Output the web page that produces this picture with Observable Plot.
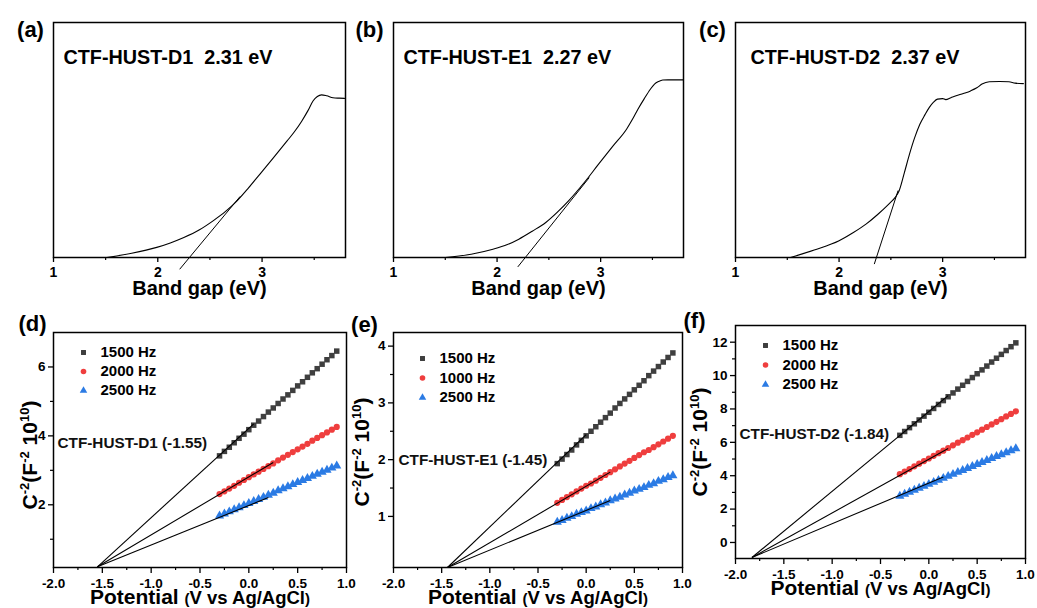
<!DOCTYPE html>
<html><head><meta charset="utf-8">
<script src="https://cdn.jsdelivr.net/npm/d3@7"></script>
<script src="https://cdn.jsdelivr.net/npm/@observablehq/plot@0.6"></script>
<style>
body{margin:0;background:#fff;}
#fig{position:relative;width:1037px;height:608px;overflow:hidden;background:#fff;}
#fig svg{position:absolute;}
</style></head><body><div id="fig"></div>
<script>
// ---------- Top row: band gap (Tauc) curves ----------
const aEnergy = [1.51, 1.75, 1.99, 2.12, 2.25, 2.40, 2.53, 2.65, 2.76, 2.87, 2.98, 3.11, 3.24, 3.31, 3.38, 3.44, 3.49, 3.53, 3.57, 3.62, 3.68, 3.74, 3.79];
const aAbs    = [0.000, 0.018, 0.043, 0.062, 0.085, 0.118, 0.156, 0.196, 0.241, 0.296, 0.355, 0.425, 0.496, 0.535, 0.580, 0.625, 0.667, 0.685, 0.692, 0.688, 0.680, 0.678, 0.677];
const aTanE = [2.21, 2.79];
const aTanA = [-0.05, 0.26];

const bEnergy = [1.50, 1.75, 1.96, 2.10, 2.21, 2.34, 2.47, 2.58, 2.69, 2.84, 2.98, 3.12, 3.25, 3.31, 3.36, 3.42, 3.48, 3.52, 3.56, 3.60, 3.65, 3.72, 3.80];
const bAbs    = [0.000, 0.014, 0.035, 0.055, 0.078, 0.112, 0.149, 0.192, 0.241, 0.318, 0.397, 0.475, 0.546, 0.590, 0.631, 0.675, 0.716, 0.738, 0.749, 0.755, 0.756, 0.756, 0.756];
const bTanE = [2.20, 2.89];
const bTanA = [-0.04, 0.34];

const cEnergy = [1.53, 1.76, 2.00, 2.13, 2.26, 2.37, 2.48, 2.54, 2.58, 2.63, 2.68, 2.73, 2.78, 2.83, 2.87, 2.91, 2.95, 3.00, 3.03, 3.08, 3.13, 3.20, 3.27, 3.33, 3.38, 3.45, 3.55, 3.64, 3.70, 3.78];
const cAbs    = [0.000, 0.032, 0.071, 0.104, 0.142, 0.182, 0.227, 0.255, 0.284, 0.360, 0.440, 0.510, 0.567, 0.608, 0.638, 0.660, 0.674, 0.676, 0.672, 0.680, 0.688, 0.698, 0.709, 0.722, 0.738, 0.748, 0.749, 0.748, 0.742, 0.740];
const cTanE = [2.34, 2.57];
const cTanA = [-0.028, 0.285];

const uvTicks = [1, 2, 3];
const uvMinor = [1.5, 2.5, 3.5];

// ---------- Bottom row: Mott-Schottky ----------
const potential = [-0.30, -0.25, -0.20, -0.15, -0.10, -0.05, 0.00, 0.05, 0.10, 0.15, 0.20, 0.25, 0.30, 0.35, 0.40, 0.45, 0.50, 0.55, 0.60, 0.65, 0.70, 0.75, 0.80, 0.85, 0.90];

const dFreq = ["1500 Hz", "2000 Hz", "2500 Hz"];
const d1500 = [3.42, 3.55, 3.67, 3.80, 3.93, 4.05, 4.18, 4.31, 4.43, 4.56, 4.69, 4.81, 4.94, 5.07, 5.19, 5.32, 5.45, 5.57, 5.70, 5.83, 5.95, 6.08, 6.21, 6.33, 6.46];
const d2000 = [2.31, 2.39, 2.47, 2.55, 2.64, 2.72, 2.80, 2.88, 2.96, 3.04, 3.12, 3.20, 3.29, 3.37, 3.45, 3.53, 3.61, 3.69, 3.77, 3.86, 3.94, 4.02, 4.10, 4.18, 4.26];
const d2500 = [1.68, 1.74, 1.80, 1.86, 1.92, 1.98, 2.04, 2.10, 2.16, 2.22, 2.28, 2.34, 2.41, 2.47, 2.53, 2.59, 2.65, 2.71, 2.77, 2.83, 2.89, 2.95, 3.01, 3.07, 3.13];
const dFlatband = [-1.55, 0.20];
const dFitEndV = [0.05, 0.25, 0.20];
const dFitEndC = [4.35, 3.23, 2.21];
const dYTicks = [2, 4, 6];
const dYMinor = [1, 3, 5];

const eFreq = ["1500 Hz", "1000 Hz", "2500 Hz"];
const e1500 = [1.93, 2.01, 2.09, 2.17, 2.26, 2.34, 2.42, 2.50, 2.58, 2.66, 2.74, 2.82, 2.91, 2.99, 3.07, 3.15, 3.23, 3.31, 3.39, 3.48, 3.56, 3.64, 3.72, 3.80, 3.88];
const e1000 = [1.24, 1.29, 1.34, 1.39, 1.44, 1.49, 1.54, 1.58, 1.63, 1.68, 1.73, 1.78, 1.83, 1.88, 1.93, 1.98, 2.03, 2.08, 2.13, 2.17, 2.22, 2.27, 2.32, 2.37, 2.42];
const e2500 = [0.90, 0.93, 0.97, 1.00, 1.04, 1.07, 1.10, 1.14, 1.17, 1.21, 1.24, 1.28, 1.31, 1.34, 1.38, 1.41, 1.45, 1.48, 1.51, 1.55, 1.58, 1.62, 1.65, 1.69, 1.72];
const eFlatband = [-1.44, 0.10];
const eFitEndV = [0.00, 0.25, 0.25];
const eFitEndC = [2.44, 1.78, 1.28];
const eYTicks = [1, 2, 3, 4];
const eYMinor = [1.5, 2.5, 3.5];

const fFreq = ["1500 Hz", "2000 Hz", "2500 Hz"];
const f1500 = [6.42, 6.65, 6.88, 7.11, 7.34, 7.57, 7.80, 8.03, 8.27, 8.50, 8.73, 8.96, 9.19, 9.42, 9.65, 9.88, 10.11, 10.34, 10.57, 10.81, 11.04, 11.27, 11.50, 11.73, 11.96];
const f2000 = [4.09, 4.25, 4.40, 4.56, 4.72, 4.88, 5.03, 5.19, 5.35, 5.50, 5.66, 5.82, 5.98, 6.13, 6.29, 6.45, 6.60, 6.76, 6.92, 7.07, 7.23, 7.39, 7.55, 7.70, 7.86];
const f2500 = [2.78, 2.90, 3.02, 3.14, 3.26, 3.37, 3.49, 3.61, 3.73, 3.85, 3.97, 4.09, 4.21, 4.32, 4.44, 4.56, 4.68, 4.80, 4.92, 5.04, 5.16, 5.27, 5.39, 5.51, 5.63];
const fFlatband = [-1.83, -0.90];
const fFitEndV = [0.20, 0.20, 0.15];
const fFitEndC = [8.80, 5.63, 3.93];
const fYTicks = [0, 2, 4, 6, 8, 10, 12];
const fYMinor = [1, 3, 5, 7, 9, 11];

const msXTicks = [-2.0, -1.5, -1.0, -0.5, 0.0, 0.5, 1.0];
const msXMinor = [-1.75, -1.25, -0.75, -0.25, 0.25, 0.75];

// y-axis title pieces: [normal, superscript] pairs
const yTitleParts = [["C", "-2"], ["(F", "-2"], [" 10", "10"], [")", ""]];
// x-axis title pieces with their font sizes
const xTitleParts = [["Potential ", 21], ["(", 15], ["V vs Ag/AgCl", 18.5], [")", 15]];

// ---------- styling / layout ----------
const FONT = "'Liberation Sans', Arial, Helvetica, sans-serif";
const symbols = ["square", "circle", "triangle"];
const colors = ["#3f3f3f", "#ef3e3e", "#2b7be4"];
const ML = 70, MT = 40, MR = 12, MB = 48;
const fig = document.getElementById("fig");
const svgStyle = {background: "transparent", fontFamily: FONT, fontSize: "14px", fontWeight: "bold", color: "#000", overflow: "visible"};
const yTitle = yTitleParts.map(p => p.join("")).join("");
const xTitle = xTitleParts.map(p => p[0]).join("");

function mount(plot, fr) {
  plot.style.left = (fr.x0 - ML) + "px";
  plot.style.top = (fr.y0 - MT) + "px";
  const texts = d3.select(plot).selectAll("text");
  // y title with real superscripts
  texts.filter(function () { return this.textContent === yTitle; }).each(function () {
    const t = d3.select(this);
    t.text(null);
    let raised = false;
    yTitleParts.forEach(([n, s]) => {
      t.append("tspan").attr("dy", raised ? 8 : 0).text(n);
      raised = false;
      if (s) {
        t.append("tspan").attr("dy", -8).attr("font-size", 13).text(s);
        raised = true;
      }
    });
  });
  // x title with mixed sizes
  texts.filter(function () { return this.textContent === xTitle; }).each(function () {
    const t = d3.select(this);
    t.text(null);
    xTitleParts.forEach(([s, size]) => t.append("tspan").attr("font-size", size).text(s));
  });
  fig.appendChild(plot);
}

function label(str, opts) {
  return Plot.text([str], {text: d => d, textAnchor: "middle", lineAnchor: "middle", fontWeight: "bold", ...opts});
}

function uvPanel(fr, E, A, tanE, tanA, title, titleDx, tag, tagDx) {
  const rows = E.map((e, i) => ({e, a: A[i]}));
  return Plot.plot({
    width: fr.x1 - fr.x0 + ML + MR, height: fr.y1 - fr.y0 + MT + MB,
    marginLeft: ML, marginRight: MR, marginTop: MT, marginBottom: MB,
    style: svgStyle,
    x: {domain: [1, 3.8], label: null},
    y: {domain: [0, 1], axis: null, label: null},
    marks: [
      Plot.axisX(uvTicks, {tickSize: 5, text: null, label: null, strokeWidth: 1.3}),
      Plot.axisX(uvMinor, {tickSize: 3, text: null, label: null, strokeWidth: 1.2}),
      Plot.text(uvTicks, {x: d => d, text: d => String(d), frameAnchor: "bottom", dy: 15, lineAnchor: "middle", fontSize: 14, fontWeight: "bold"}),
      Plot.line(rows, {x: "e", y: "a", stroke: "#000", strokeWidth: 1.1, curve: "monotone-x"}),
      Plot.link([0], {x1: () => tanE[0], y1: () => tanA[0], x2: () => tanE[1], y2: () => tanA[1], stroke: "#000", strokeWidth: 1}),
      Plot.frame({stroke: "#000", strokeWidth: 1.5}),
      label(title, {frameAnchor: "top-left", dx: titleDx, dy: 35, textAnchor: "start", fontSize: 19.8}),
      label(tag, {frameAnchor: "top-left", dx: tagDx, dy: 7, fontSize: 22}),
      label("Band gap (eV)", {frameAnchor: "bottom", dy: 31, fontSize: 20})
    ]
  });
}

function msPanel(fr, yDomain, yTicks, yMinor, seriesVals, freqs, flat, endV, endC,
                 annot, annotDx, annotDy, legDx, legDy, legGap, tag, tagDx, tagDy, ylabDx, ylabDy) {
  const marks = [
    Plot.axisX(msXTicks, {tickSize: 6, text: null, label: null, strokeWidth: 1.3}),
    Plot.axisX(msXMinor, {tickSize: 3, text: null, label: null, strokeWidth: 1.2}),
    Plot.axisY(yTicks, {tickSize: 5, text: null, label: null, strokeWidth: 1.3}),
    Plot.axisY(yMinor, {tickSize: 3, text: null, label: null, strokeWidth: 1.2}),
    Plot.text(msXTicks, {x: d => d, text: d => d.toFixed(1), frameAnchor: "bottom", dy: 16.5, lineAnchor: "middle", fontSize: 13.5, fontWeight: "bold"}),
    Plot.text(yTicks, {y: d => d, text: d => String(d), frameAnchor: "left", dx: -8, textAnchor: "end", lineAnchor: "middle", fontSize: 13.5, fontWeight: "bold"})
  ];
  seriesVals.forEach((vals, s) => {
    const rows = potential.map((p, i) => ({p, c: vals[i]}));
    marks.push(Plot.dot(rows, {x: "p", y: "c", symbol: symbols[s], fill: colors[s], r: s === 2 ? 3.4 : 3.1, stroke: "none"}));
  });
  marks.push(Plot.link([0, 1, 2], {x1: () => flat[0], y1: () => flat[1], x2: i => endV[i], y2: i => endC[i], stroke: "#000", strokeWidth: 1.1}));
  marks.push(Plot.frame({stroke: "#000", strokeWidth: 1.5}));
  freqs.forEach((f, s) => {
    marks.push(Plot.dot([f], {frameAnchor: "top-left", dx: legDx, dy: legDy + s * legGap, symbol: symbols[s], fill: colors[s], r: 2.8}));
    marks.push(label(f, {frameAnchor: "top-left", dx: legDx + 17, dy: legDy + s * legGap, textAnchor: "start", fontSize: 15}));
  });
  marks.push(label(annot, {frameAnchor: "top-left", dx: annotDx, dy: annotDy, textAnchor: "start", fontSize: 15.3, fill: "#111"}));
  marks.push(label(tag, {frameAnchor: "top-left", dx: tagDx, dy: tagDy, fontSize: 22}));
  marks.push(label(xTitle, {frameAnchor: "bottom", dy: 30, fontSize: 20}));
  marks.push(label(yTitle, {frameAnchor: "left", dx: ylabDx, dy: ylabDy, rotate: -90, fontSize: 21}));
  return Plot.plot({
    width: fr.x1 - fr.x0 + ML + MR, height: fr.y1 - fr.y0 + MT + MB,
    marginLeft: ML, marginRight: MR, marginTop: MT, marginBottom: MB,
    style: svgStyle,
    x: {domain: [-2, 1], label: null},
    y: {domain: yDomain, label: null},
    marks
  });
}

const frA = {x0: 53, x1: 345, y0: 22, y1: 257};
const frB = {x0: 393, x1: 683, y0: 22, y1: 257};
const frC = {x0: 735, x1: 1025, y0: 22, y1: 257};
const frD = {x0: 53, x1: 346, y0: 332, y1: 567};
const frE = {x0: 393, x1: 682, y0: 332, y1: 567};
const frF = {x0: 735, x1: 1025, y0: 325, y1: 558};

mount(uvPanel(frA, aEnergy, aAbs, aTanE, aTanA, "CTF-HUST-D1  2.31 eV", 10, "(a)", -23), frA);
mount(uvPanel(frB, bEnergy, bAbs, bTanE, bTanA, "CTF-HUST-E1  2.27 eV", 10, "(b)", -24), frB);
mount(uvPanel(frC, cEnergy, cAbs, cTanE, cTanA, "CTF-HUST-D2  2.37 eV", 15, "(c)", -23), frC);

mount(msPanel(frD, [0.18, 7.0], dYTicks, dYMinor, [d1500, d2000, d2500], dFreq, dFlatband, dFitEndV, dFitEndC,
  "CTF-HUST-D1 (-1.55)", 4, 111, 30, 20, 19, "(d)", -21, -9, -23, 5), frD);
mount(msPanel(frE, [0.1, 4.24], eYTicks, eYMinor, [e1500, e1000, e2500], eFreq, eFlatband, eFitEndV, eFitEndC,
  "CTF-HUST-E1 (-1.45)", 5, 128, 29, 26, 19.5, "(e)", -29, -8, -31, 2), frE);
mount(msPanel(frF, [-0.96, 13.0], fYTicks, fYMinor, [f1500, f2000, f2500], fFreq, fFlatband, fFitEndV, fFitEndC,
  "CTF-HUST-D2 (-1.84)", 4, 109, 30, 20, 19.5, "(f)", -41, -5, -35, 0), frF);
</script>
</body></html>
